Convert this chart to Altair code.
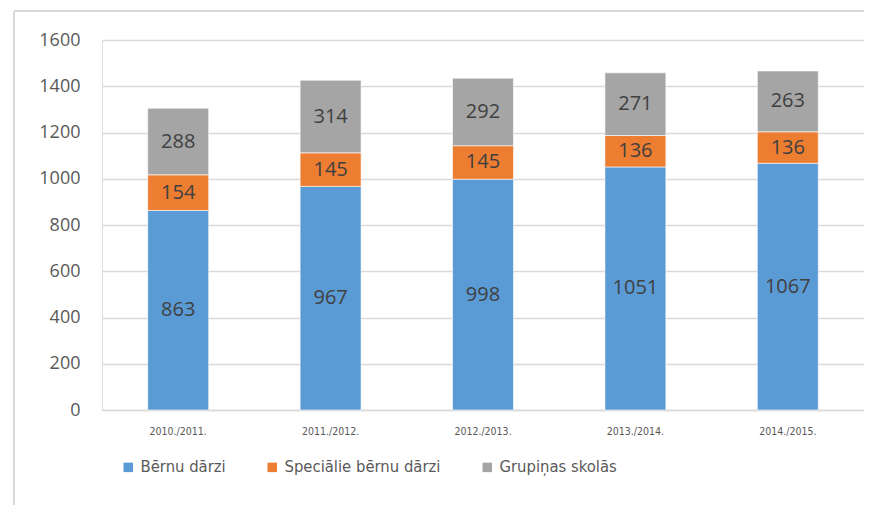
import altair as alt
import pandas as pd

years = ["2010./2011.", "2011./2012.", "2012./2013.", "2013./2014.", "2014./2015."]
series = ["Bērnu dārzi", "Speciālie bērnu dārzi", "Grupiņas skolās"]
berni = [863, 967, 998, 1051, 1067]
special = [154, 145, 145, 136, 136]
grupinas = [288, 314, 292, 271, 263]
colors = ["#5B9BD5", "#ED7D31", "#A5A5A5"]
y_ticks = [0, 200, 400, 600, 800, 1000, 1200, 1400, 1600]

rows = []
for vals, s_i in [(berni, 0), (special, 1), (grupinas, 2)]:
    for y, v in zip(years, vals):
        rows.append({"year": y, "series": series[s_i], "ord": s_i, "value": v})
df = pd.DataFrame(rows)

FONT = "Open Sans"
NARROW = "DejaVu Sans Condensed, Open Sans"
W, H = 762, 370

base = alt.Chart(df).transform_stack(
    stack="value", as_=["y0", "y1"], groupby=["year"], sort=[alt.SortField("ord")]
)

x_enc = alt.X("year:N", sort=years, title=None,
              scale=alt.Scale(paddingInner=0.6, paddingOuter=0.3),
              axis=alt.Axis(labelAngle=0, labelFontSize=10.5, labelColor="#595959",
                            labelPadding=16, ticks=False, domainColor="#D9D9D9",
                            domainWidth=1.5, labelFont=NARROW))

bars = base.mark_bar(stroke="white", strokeWidth=0.6).encode(
    x=x_enc,
    y=alt.Y("y0:Q", title=None,
            scale=alt.Scale(domain=[0, 1600]),
            axis=alt.Axis(values=y_ticks, format="d", labelFontSize=18, labelColor="#595959",
                          labelPadding=22, ticks=False, domain=False,
                          gridColor="#D9D9D9", gridWidth=1.5, labelFont=FONT)),
    y2="y1:Q",
    color=alt.Color("series:N", sort=series,
                    scale=alt.Scale(domain=series, range=colors),
                    legend=alt.Legend(title=None, orient="none", direction="horizontal",
                                      legendX=18, legendY=419, symbolType="square",
                                      symbolSize=90, labelFontSize=16.5, labelColor="#595959",
                                      columnPadding=38, labelFont=NARROW, symbolStrokeWidth=0,
                                      labelOffset=4, labelLimit=400)),
)

labels = base.transform_calculate(mid="(datum.y0 + datum.y1) / 2").mark_text(
    fontSize=20, color="#404040", font=FONT
).encode(
    x=alt.X("year:N", sort=years),
    y=alt.Y("mid:Q"),
    text=alt.Text("value:Q", format="d"),
)

border_top = alt.Chart(df).mark_rule(color="#D9D9D9", strokeWidth=1.5).encode(
    x=alt.value(-88), x2=alt.value(W + 10), y=alt.value(-29)
)
border_left = alt.Chart(df).mark_rule(color="#D9D9D9", strokeWidth=1.5).encode(
    x=alt.value(-88), y=alt.value(-29), y2=alt.value(H + 120)
)

chart = alt.layer(border_top, border_left, bars, labels).properties(
    width=W, height=H,
    autosize=alt.AutoSizeParams(type="none"),
    padding={"left": 94, "top": 32, "right": 0, "bottom": 95},
).configure_view(stroke=None).configure(font=FONT)

chart.save("out.html", embed_options={"renderer": "svg", "actions": False})
